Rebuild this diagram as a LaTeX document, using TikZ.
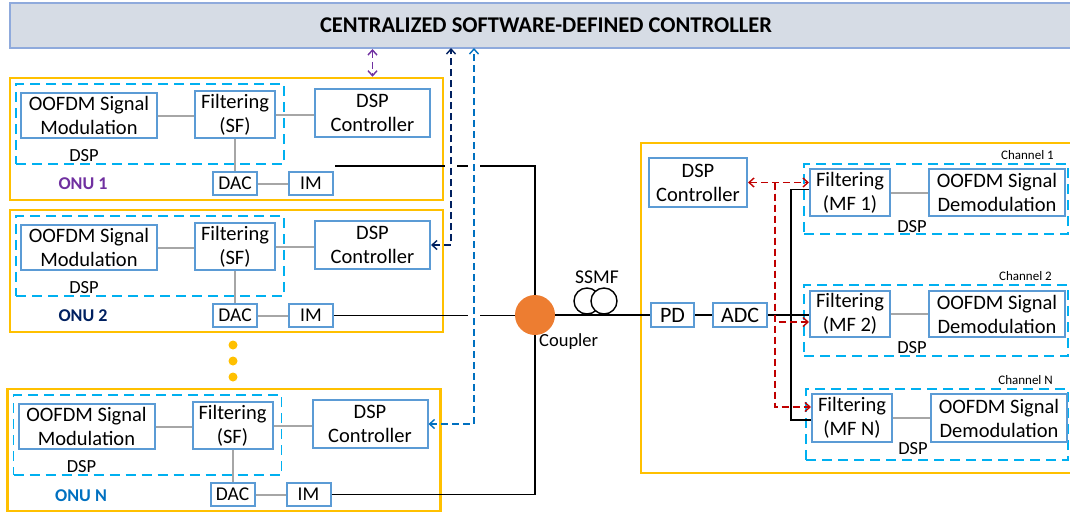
\documentclass[tikz,border=0pt]{standalone}
\usepackage{fontspec}
\setmainfont{Carlito}
\usepackage{tikz}
\usetikzlibrary{arrows.meta,calc,shapes}

\definecolor{barfill}{HTML}{D6DCE5}
\definecolor{bardraw}{HTML}{8FAADC}
\definecolor{boxblue}{HTML}{5B9BD5}
\definecolor{dspcyan}{HTML}{00B0F0}
\definecolor{onuyellow}{HTML}{FFC000}
\definecolor{linegray}{HTML}{A6A6A6}
\definecolor{cplorange}{HTML}{ED7D31}
\definecolor{purp}{HTML}{7030A0}
\definecolor{navy}{HTML}{002060}
\definecolor{bluec}{HTML}{0070C0}
\definecolor{redc}{HTML}{C00000}

\begin{document}
\begin{tikzpicture}[x=1pt,y=-1pt,
  >={Straight Barb[length=5pt,width=9pt]},
  blk/.style={draw=boxblue,line width=2pt,fill=white,align=center,inner sep=0pt,font=\fontsize{20.5}{24}\selectfont},
  smallblk/.style={blk,font=\fontsize{19.5}{20}\selectfont},
  dspbox/.style={draw=dspcyan,line width=1.5pt,dash pattern=on 10pt off 6pt,inner sep=0pt},
  onubox/.style={draw=onuyellow,line width=2.5pt,inner sep=0pt},
  gline/.style={draw=linegray,line width=2pt},
  fibre/.style={line width=1.6pt},
  ctrlline/.style={line width=1.4pt,dash pattern=on 7pt off 4pt},
  lbl/.style={font=\fontsize{18.5}{20}\selectfont,inner sep=0pt},
  onulbl/.style={font=\fontsize{18}{20}\selectfont\bfseries,inner sep=0pt},
  chlbl/.style={font=\fontsize{13}{14}\selectfont,inner sep=0pt,anchor=east},
  dot/.style={circle,fill=onuyellow,minimum size=9pt,inner sep=0pt}]
\useasboundingbox (0,0) rectangle (1070,512);

\node[draw=bardraw,fill=barfill,line width=2pt,minimum width=1072pt,minimum height=45pt,font=\fontsize{22.5}{24}\selectfont\bfseries] (ctl) at (546,25.5) {CENTRALIZED SOFTWARE-DEFINED CONTROLLER};

\node[onubox,minimum width=433pt,minimum height=122pt] (onu1) at (226.5,139) {};
\node[dspbox,minimum width=268pt,minimum height=80pt] (dsp1) at (150,124) {};
\node[blk,minimum width=136pt,minimum height=45pt] (mod1) at (89,115.5) {OOFDM Signal\\Modulation};
\node[blk,minimum width=80pt,minimum height=47pt] (filt1) at (235,114.5) {Filtering\\(SF)};
\node[blk,minimum width=115pt,minimum height=48pt] (ctrl1) at (372.5,113) {DSP\\Controller};
\node[lbl] (dsplbl1) at (84,156) {DSP};
\node[smallblk,minimum width=44pt,minimum height=23pt] (dac1) at (235,183.5) {DAC};
\node[smallblk,minimum width=44pt,minimum height=23pt] (im1) at (311,183.5) {IM};
\node[onulbl,text=purp] (onulbl1) at (83,184) {ONU 1};
\draw[gline] (mod1.east) -- (mod1.east -| filt1.west);
\draw[gline] (filt1.east) -- (filt1.east -| ctrl1.west);
\draw[gline] (filt1.south) -- (dac1.north);
\draw[gline] (dac1.east) -- (im1.west);

\node[onubox,minimum width=433pt,minimum height=122pt] (onu2) at (226.5,271) {};
\node[dspbox,minimum width=268pt,minimum height=80pt] (dsp2) at (150,256) {};
\node[blk,minimum width=136pt,minimum height=45pt] (mod2) at (89,247.5) {OOFDM Signal\\Modulation};
\node[blk,minimum width=80pt,minimum height=47pt] (filt2) at (235,246.5) {Filtering\\(SF)};
\node[blk,minimum width=115pt,minimum height=48pt] (ctrl2) at (372.5,245) {DSP\\Controller};
\node[lbl] (dsplbl2) at (84,288) {DSP};
\node[smallblk,minimum width=44pt,minimum height=23pt] (dac2) at (235,315.5) {DAC};
\node[smallblk,minimum width=44pt,minimum height=23pt] (im2) at (311,315.5) {IM};
\node[onulbl,text=navy] (onulbl2) at (83,316) {ONU 2};
\draw[gline] (mod2.east) -- (mod2.east -| filt2.west);
\draw[gline] (filt2.east) -- (filt2.east -| ctrl2.west);
\draw[gline] (filt2.south) -- (dac2.north);
\draw[gline] (dac2.east) -- (im2.west);

\node[dot] (dotA) at (233,345) {};
\node[dot] (dotB) at (233,361) {};
\node[dot] (dotC) at (233,377) {};

\node[onubox,minimum width=433pt,minimum height=122pt] (onun) at (224,450) {};
\node[dspbox,minimum width=268pt,minimum height=80pt] (dspn) at (147.5,435) {};
\node[blk,minimum width=136pt,minimum height=45pt] (modn) at (86.5,426.5) {OOFDM Signal\\Modulation};
\node[blk,minimum width=80pt,minimum height=47pt] (filtn) at (232.5,425.5) {Filtering\\(SF)};
\node[blk,minimum width=115pt,minimum height=48pt] (ctrln) at (370,424) {DSP\\Controller};
\node[lbl] (dsplbln) at (81.5,467) {DSP};
\node[smallblk,minimum width=44pt,minimum height=23pt] (dacn) at (232.5,494.5) {DAC};
\node[smallblk,minimum width=44pt,minimum height=23pt] (imn) at (308.5,494.5) {IM};
\node[onulbl,text=bluec] (onulbln) at (81,496) {ONU N};
\draw[gline] (modn.east) -- (modn.east -| filtn.west);
\draw[gline] (filtn.east) -- (filtn.east -| ctrln.west);
\draw[gline] (filtn.south) -- (dacn.north);
\draw[gline] (dacn.east) -- (imn.west);

\node[circle,fill=cplorange,minimum size=40pt,inner sep=0pt] (cpl) at (535,315) {};
\node[lbl,anchor=west] (cpllbl) at (539,342) {Coupler};
\coordinate (f1) at ($(im1.north east)+(1,-5)$);
\draw[fibre] (f1) -| (cpl);
\draw[fibre] (im2.east) -- (im2.east -| cpl.west);
\draw[fibre] (imn.east) -| (cpl);

\coordinate (nvtop) at (451,48);
\coordinate (bltop) at (474,48);
\fill[white] ($(nvtop |- f1)+(-6,-3)$) rectangle ($(nvtop |- f1)+(6,3)$);
\fill[white] ($(bltop |- f1)+(-6,-3)$) rectangle ($(bltop |- f1)+(6,3)$);
\fill[white] ($(bltop |- im2.east)+(-6,-3)$) rectangle ($(bltop |- im2.east)+(6,3)$);
\draw[ctrlline,purp,<->] (ctrl1 |- ctl.south) -- (ctrl1 |- onu1.north);
\draw[ctrlline,navy,<->] (ctrl2.east) -| (nvtop);
\draw[ctrlline,bluec,<->] (ctrln.east) -| (bltop);

\node[onubox,minimum width=440pt,minimum height=330pt] (olt) at (861,308) {};
\node[blk,minimum width=98pt,minimum height=49pt] (dctl) at (698,182.5) {DSP\\Controller};
\node[circle,draw,fill=white,line width=1.4pt,minimum size=26pt,inner sep=0pt] (coilA) at (587,301) {};
\node[circle,draw,fill=white,line width=1.4pt,minimum size=26pt,inner sep=0pt] (coilB) at (604,301) {};
\node[lbl,font=\fontsize{19.5}{20}\selectfont] (ssmf) at (597,277) {SSMF};
\node[blk,minimum width=43pt,minimum height=24pt,font=\fontsize{22}{22}\selectfont] (pd) at (672.5,315) {PD};
\node[blk,minimum width=54pt,minimum height=24pt,font=\fontsize{22}{22}\selectfont] (adc) at (740,315) {ADC};
\draw[fibre] (cpl.east) -- (pd.west);
\draw[fibre] (pd.east) -- (adc.west);

\node[dspbox,minimum width=264pt,minimum height=70pt] (ch1) at (936,199) {};
\node[blk,minimum width=80pt,minimum height=47pt] (mf1) at (850,192.5) {Filtering\\(MF 1)};
\node[blk,minimum width=136pt,minimum height=47pt] (dem1) at (997,192.5) {OOFDM Signal\\Demodulation};
\node[lbl] (chdsp1) at (912,227) {DSP};
\node[chlbl] (chlbl1) at (1054,155) {Channel 1};
\draw[gline] (mf1.east) -- (dem1.west);

\node[dspbox,minimum width=264pt,minimum height=71pt] (ch2) at (936,320.5) {};
\node[blk,minimum width=80pt,minimum height=46pt] (mf2) at (850,314) {Filtering\\(MF 2)};
\node[blk,minimum width=136pt,minimum height=46pt] (dem2) at (997,314) {OOFDM Signal\\Demodulation};
\node[lbl] (chdsp2) at (912,348) {DSP};
\node[chlbl] (chlbl2) at (1052,276) {Channel 2};
\draw[gline] (mf2.east) -- (dem2.west);

\node[dspbox,minimum width=262pt,minimum height=71pt] (chn) at (937,424.5) {};
\node[blk,minimum width=80pt,minimum height=48pt] (mfn) at (852,418) {Filtering\\(MF N)};
\node[blk,minimum width=136pt,minimum height=48pt] (demn) at (999,418) {OOFDM Signal\\Demodulation};
\node[lbl] (chdspn) at (913,449) {DSP};
\node[chlbl] (chlbln) at (1053,380) {Channel N};
\draw[gline] (mfn.east) -- (demn.west);

\draw[fibre] (adc.east) -- (adc.east -| mf2.west);
\draw[fibre] ($(mf1.west)+(0,-3)$) -- ++(-18,0) |- ($(mfn.west)+(0,2)$);
\draw[ctrlline,redc,<->] (dctl.east) -- (dctl.east -| mf1.west);
\coordinate (rbus) at ($(dctl.east)+(27,0)$);
\draw[ctrlline,redc,->] (rbus) |- ($(mf2.west)+(0,8)$);
\draw[ctrlline,redc,->] (rbus) |- ($(mfn.west)+(0,-11)$);
\end{tikzpicture}
\end{document}
